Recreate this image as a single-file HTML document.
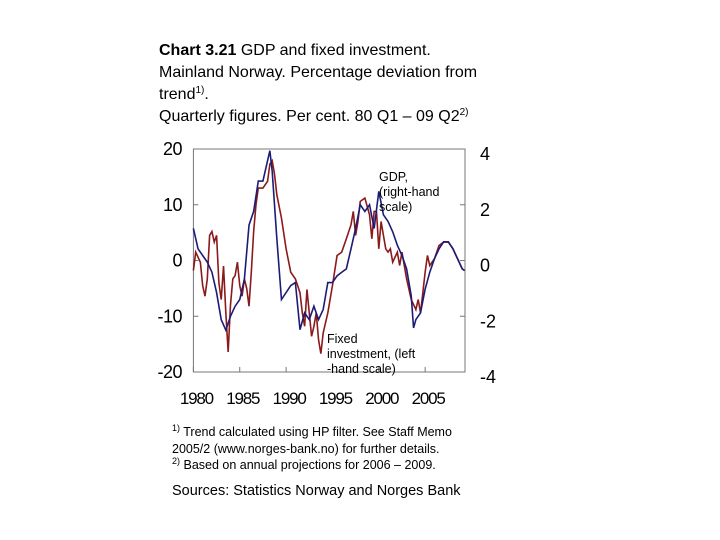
<!DOCTYPE html>
<html><head><meta charset="utf-8"><style>
body{margin:0;background:#fff;font-family:"Liberation Sans",sans-serif;}
#wrap{position:relative;width:720px;height:540px;overflow:hidden;}
.t{position:absolute;color:#000;white-space:nowrap;}
sup{line-height:0;vertical-align:0;position:relative;top:-0.6em;}
</style></head><body>
<div id="wrap">
<div class="t" style="left:159px;top:40px;font-size:16px;line-height:22px;">
<b>Chart 3.21</b> GDP and fixed investment.<br>Mainland Norway. Percentage deviation from<br>trend<sup style="font-size:10px">1)</sup>.<br>Quarterly figures. Per cent. 80 Q1 – 09 Q2<sup style="font-size:10px">2)</sup></div>
<svg id="chart" width="720" height="540" style="position:absolute;left:0;top:0"></svg>
<div class="t" style="left:172px;top:424px;font-size:12.5px;line-height:16.5px;">
<sup style="font-size:9px">1)</sup> Trend calculated using HP filter. See Staff Memo<br>2005/2 (www.norges-bank.no) for further details.<br><sup style="font-size:9px">2)</sup> Based on annual projections for 2006 – 2009.</div>
<div class="t" style="left:172px;top:483px;font-size:14.5px;">Sources: Statistics Norway and Norges Bank</div>
</div>
<script>
const invT=[1980,1980.25,1980.75,1981,1981.25,1981.5,1981.75,1982,1982.25,1982.5,1982.75,1983,1983.25,1983.5,1983.75,1984,1984.25,1984.5,1984.75,1985,1985.25,1985.5,1985.75,1986,1986.25,1986.5,1986.75,1987,1987.5,1988,1988.25,1988.5,1988.75,1989,1989.5,1990,1990.5,1991,1991.25,1991.5,1991.75,1992,1992.25,1992.5,1992.75,1993,1993.25,1993.5,1993.75,1994,1994.5,1995,1995.5,1996,1996.5,1997,1997.25,1997.5,1997.75,1998,1998.5,1999,1999.25,1999.5,1999.75,2000,2000.25,2000.5,2000.75,2001,2001.25,2001.5,2002,2002.25,2002.5,2003,2003.5,2004,2004.25,2004.5,2004.75,2005,2005.25,2005.5,2006,2006.5,2007,2007.5,2008,2008.5,2009,2009.25];
const invV=[-1.8,1.5,-0.3,-4.5,-6.4,-3.3,4.5,5.2,3.3,4.5,-4,-7,-1,-9.4,-16.4,-8,-3.3,-2.7,-0.3,-4.5,-6.4,-3.3,-5,-8.2,-2,5.2,10,13,13,14.2,17.3,17.9,15.5,11.8,7.6,2.1,-2.1,-3.3,-4.5,-5.8,-9.4,-11.8,-5.2,-9.4,-13.6,-11.8,-9.4,-14.2,-16.7,-13,-9.4,-4.5,0.9,1.5,3.9,6.4,8.8,4.5,7,10.6,11.2,8.2,3.9,8.8,8.8,2.1,7,4.5,2.1,1.5,2.1,-0.3,1.5,-0.9,1.5,-3.3,-7,-8.8,-7,-9.4,-5.8,-2.1,0.9,-0.9,0.3,2.7,3.3,3.3,2.1,0.3,-1.5,-1.8];
const gdpT=[1980,1980.5,1981,1981.5,1982,1982.5,1983,1983.5,1984,1984.5,1985,1985.5,1986,1986.5,1987,1987.5,1988,1988.25,1988.5,1989,1989.5,1990,1990.5,1991,1991.5,1992,1992.5,1993,1993.5,1994,1994.5,1995,1995.5,1996,1996.5,1997,1997.5,1998,1998.5,1999,1999.5,2000,2000.5,2001,2001.5,2002,2002.5,2003,2003.5,2003.75,2004,2004.5,2005,2005.5,2006,2006.5,2007,2007.5,2008,2008.5,2009,2009.25];
const gdpV=[1.15,0.42,0.18,-0.06,-0.42,-1.15,-2.12,-2.5,-2,-1.64,-1.4,-0.67,1.27,1.76,2.85,2.85,3.58,3.94,3.2,0.79,-1.4,-1.15,-0.9,-0.79,-2.48,-1.88,-2.12,-1.64,-2.12,-1.76,-0.79,-0.79,-0.55,-0.42,-0.3,0.42,1.15,2,1.76,2,1.15,2.48,1.64,1.4,1.03,0.55,0.18,-0.3,-1.27,-2.42,-2.12,-1.88,-1.03,-0.42,0.06,0.42,0.67,0.67,0.42,0.06,-0.3,-0.36];
const leftTicks=[20,10,0,-10,-20];
const rightTicks=[4,2,0,-2,-4];
const xTicks=[1980,1985,1990,1995,2000,2005];
const X0=193.4,X1=465,Y0=149,Y1=372;
const xs=t=>X0+(t-1980)*(X1-X0)/29.3;
const yl=v=>Y0+(20-v)*(Y1-Y0)/40;
const yr=v=>Y0+(4-v)*(Y1-Y0)/8;
const svg=document.getElementById('chart');const NS='http://www.w3.org/2000/svg';
function mk(tag,a){const e=document.createElementNS(NS,tag);for(const k in a)e.setAttribute(k,a[k]);svg.appendChild(e);return e;}
let f=mk('rect',{x:X0,y:Y0,width:X1-X0,height:Y1-Y0,fill:'none',stroke:'#777','stroke-width':1});


leftTicks.forEach(v=>{let t=mk('text',{x:182,y:yl(v)+6,'text-anchor':'end','font-size':18,'font-family':'Liberation Sans, sans-serif','letter-spacing':'-0.5'});t.textContent=v;


mk('line',{x1:X0,x2:X0+5,y1:yl(v),y2:yl(v),stroke:'#777'});});
rightTicks.forEach(v=>{let t=mk('text',{x:480,y:yr(v)+11,'font-size':18,'font-family':'Liberation Sans, sans-serif'});t.textContent=v;


mk('line',{x1:X1-5,x2:X1,y1:yr(v),y2:yr(v),stroke:'#777'});});
xTicks.forEach(v=>{let t=mk('text',{x:xs(v)+3,y:404,'text-anchor':'middle','font-size':17,'font-family':'Liberation Sans, sans-serif','letter-spacing':'-1.2'});t.textContent=v;


mk('line',{x1:xs(v),x2:xs(v),y1:Y1,y2:Y1-5,stroke:'#777'});});
let p1=mk('polyline',{points:invT.map((t,i)=>xs(t)+','+yl(invV[i])).join(' '),fill:'none',stroke:'#8b1a1a','stroke-width':1.6});


let p2=mk('polyline',{points:gdpT.map((t,i)=>xs(t)+','+yr(gdpV[i])).join(' '),fill:'none',stroke:'#1c1c78','stroke-width':1.6});


function lbl(lines,x,y,name){lines.forEach((s,i)=>{let t=mk('text',{x:x,y:y+i*15,'font-size':12.5,'font-family':'Liberation Sans, sans-serif'});t.textContent=s;

});}
lbl(['GDP,','(right-hand','scale)'],379,181,'gdp-annotation');
lbl(['Fixed','investment, (left','-hand scale)'],327,343,'investment-annotation');
</script>
</body></html>
